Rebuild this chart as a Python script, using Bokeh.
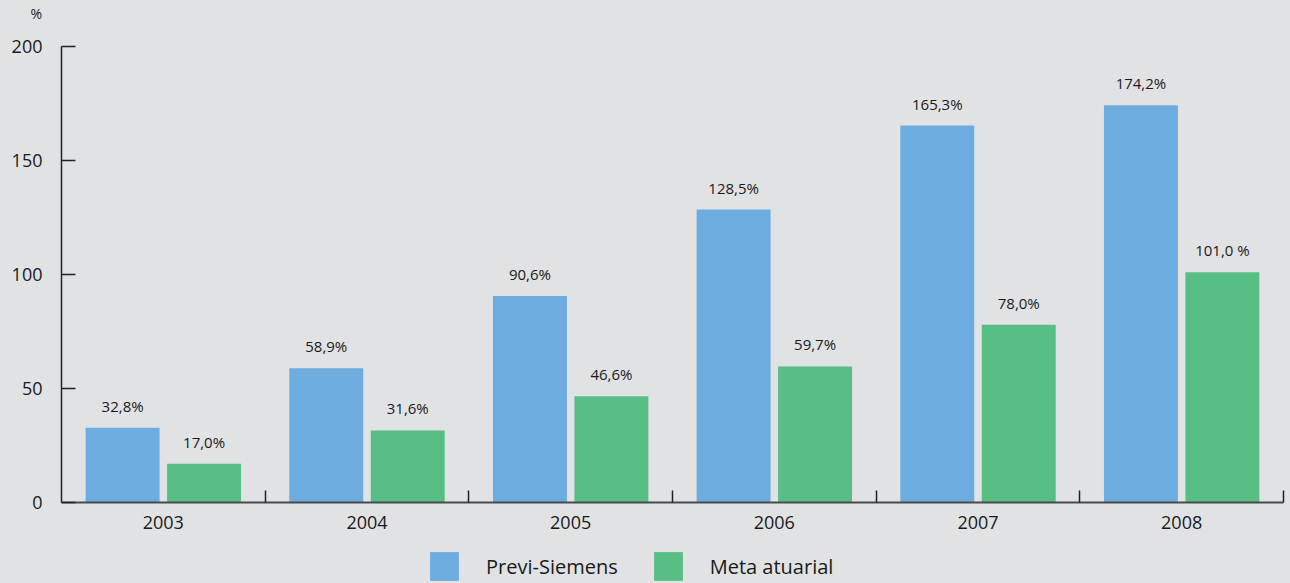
import re
from bokeh.plotting import figure
from bokeh.layouts import column
from bokeh.models import (Range1d, FixedTicker, Legend, LegendItem,
                          ColumnDataSource)
from bokeh.embed import file_html
from bokeh.resources import INLINE
from bokeh.core.properties import value

# ---- data ----
years = ["2003", "2004", "2005", "2006", "2007", "2008"]
previ_siemens = [32.8, 58.9, 90.6, 128.5, 165.3, 174.2]
meta_atuarial = [17.0, 31.6, 46.6, 59.7, 78.0, 101.0]
previ_labels = ["32,8%", "58,9%", "90,6%", "128,5%", "165,3%", "174,2%"]
meta_labels = ["17,0%", "31,6%", "46,6%", "59,7%", "78,0%", "101,0 %"]
y_ticks = [0, 50, 100, 150, 200]
series_names = ["Previ-Siemens", "Meta atuarial"]
unit_label = "%"

BG = "#e1e2e4"
BLUE = "#6dacdf"
GREEN = "#57be85"
TXT = "#1a1a1a"
FONT = "Open Sans"

centers = [i + 0.5 for i in range(len(years))]
dodge = 0.2
bar_w = 0.363

src_a = ColumnDataSource(dict(x=[c - dodge for c in centers], top=previ_siemens, lab=previ_labels))
src_b = ColumnDataSource(dict(x=[c + dodge for c in centers], top=meta_atuarial, lab=meta_labels))

p = figure(width=1290, height=545, output_backend="svg", toolbar_location=None,
           x_range=Range1d(0, len(years)), y_range=Range1d(0, 200),
           min_border_left=61, min_border_right=7, min_border_top=46,
           min_border_bottom=43)
p.background_fill_color = BG
p.border_fill_color = BG
p.outline_line_color = None
p.xgrid.visible = False
p.ygrid.visible = False

# "%" unit label as title, left of the frame, at the top
p.title.text = unit_label + "\n "
p.title.align = "left"
p.title.vertical_align = "top"
p.title.offset = -31
p.title.text_font = FONT
p.title.text_font_size = "14px"
p.title.text_font_style = "normal"
p.title.text_color = TXT
p.title.standoff = 6

ra = p.vbar(x="x", top="top", width=bar_w, source=src_a, fill_color=BLUE, line_color=None)
rb = p.vbar(x="x", top="top", width=bar_w, source=src_b, fill_color=GREEN, line_color=None)

for src in (src_a, src_b):
    p.text(x="x", y="top", text="lab", source=src, text_align="center",
           text_baseline="middle", y_offset=-22, text_font_size="15px",
           text_font=value(FONT), text_color=TXT)

# x axis
xa = p.xaxis[0]
xa.ticker = FixedTicker(ticks=centers, minor_ticks=list(range(1, len(years) + 1)))
xa.major_label_overrides = {c: y for c, y in zip(centers, years)}
xa.major_tick_in = 0
xa.major_tick_out = 0
xa.minor_tick_in = 12
xa.minor_tick_out = 0
xa.minor_tick_line_color = "#222222"
xa.minor_tick_line_width = 1.5
xa.axis_line_color = "#4a4a4a"
xa.axis_line_width = 2
xa.major_label_text_font = FONT
xa.major_label_text_font_size = "18px"
xa.major_label_text_color = TXT
xa.major_label_standoff = 13

# y axis
ya = p.yaxis[0]
ya.ticker = FixedTicker(ticks=y_ticks)
ya.major_tick_in = 14
ya.major_tick_out = 0
ya.minor_tick_line_color = None
ya.major_tick_line_color = "#222222"
ya.major_tick_line_width = 1.5
ya.axis_line_color = "#222222"
ya.axis_line_width = 1.5
ya.major_label_text_font = FONT
ya.major_label_text_font_size = "18px"
ya.major_label_text_color = TXT
ya.major_label_standoff = 19

# legend strip below the chart (its frame is aligned with the chart frame)
lg = figure(width=1290, height=38, output_backend="svg", toolbar_location=None,
            x_range=Range1d(0, 1), y_range=Range1d(0, 1),
            x_axis_type=None, y_axis_type=None,
            min_border_left=61, min_border_right=7, min_border_top=0,
            min_border_bottom=0)
lg.background_fill_color = BG
lg.border_fill_color = BG
lg.outline_line_color = None
lg.xgrid.visible = False
lg.ygrid.visible = False
# zero-height swatch renderers, only used to give the legend its colours
swatch = ColumnDataSource(dict(x=[0], top=[0]))
la = lg.vbar(x="x", top="top", width=0, source=swatch, fill_color=BLUE, line_color=None)
lb = lg.vbar(x="x", top="top", width=0, source=swatch, fill_color=GREEN, line_color=None)

legend = Legend(items=[LegendItem(label=series_names[0], renderers=[la]),
                       LegendItem(label=series_names[1], renderers=[lb])],
                location=(365, -1), orientation="horizontal",
                glyph_width=36, glyph_height=36, label_standoff=24, spacing=32,
                label_text_font=FONT, label_text_font_size="20px",
                label_text_color=TXT, background_fill_alpha=0,
                border_line_alpha=0, padding=0, margin=0)
lg.add_layout(legend, "center")

page = column(p, lg, spacing=0)
page.styles = {"background-color": BG}

html = file_html(page, INLINE)
html = re.sub(r"<body[^>]*>", '<body style="margin:8px;background-color:%s;">' % BG, html, count=1)
html = html.replace("<html", '<html style="background-color:%s;"' % BG, 1)
open("out.html", "w").write(html)
